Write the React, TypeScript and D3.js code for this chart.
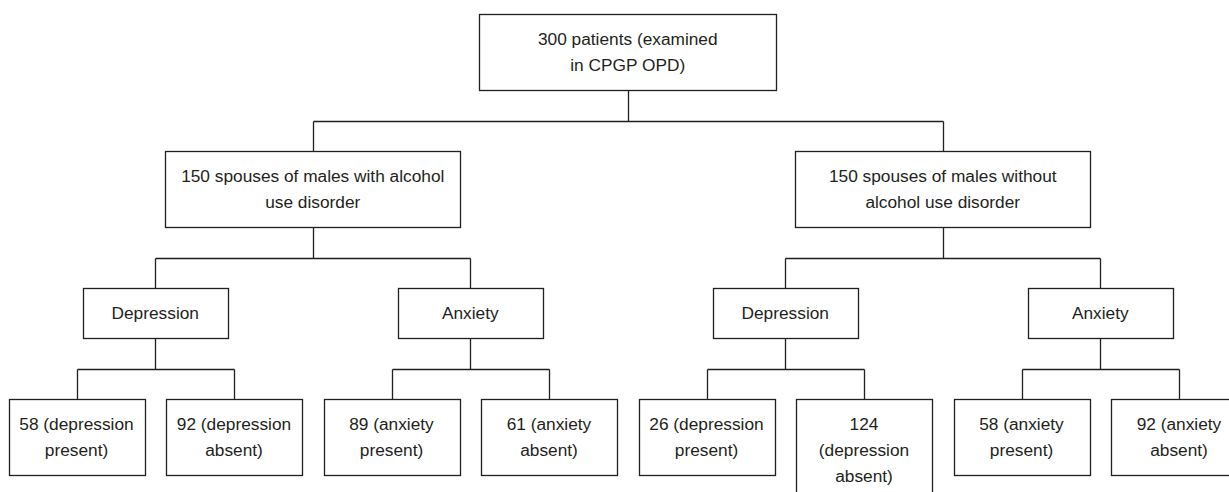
import React, { useMemo } from "react";
import * as d3 from "d3";

// ---------- data ----------
const ROOT_LABEL = "300 patients (examined\nin CPGP OPD)";
const GROUP_LABELS = [
  "150 spouses of males with alcohol\nuse disorder",
  "150 spouses of males without\nalcohol use disorder",
];
const CONDITIONS = ["Depression", "Anxiety"];
const OUTCOMES = ["present", "absent"];
// counts per group × condition : [present, absent]
const COUNTS_ALCOHOL = [
  [58, 92],
  [89, 61],
];
const COUNTS_NO_ALCOHOL = [
  [26, 124],
  [58, 92],
];
const COUNTS = [COUNTS_ALCOHOL, COUNTS_NO_ALCOHOL];

// ---------- style ----------
const W = 1229;
const H = 492;
const FONT = "Liberation Sans, Arial, Helvetica, sans-serif";
const FONT_SIZE = 17.3;
const LINE_H = 26;
const INK = "#231f20";
const BOX_W = [297, 295, 145, 136];
const TOP0 = 14;
const GAP = 61;
const CONNECT_ABOVE = 30;

type Node = { label: string; wrap?: boolean; children?: Node[] };

function buildTree(): Node {
  return {
    label: ROOT_LABEL,
    children: GROUP_LABELS.map((g, gi) => ({
      label: g,
      children: CONDITIONS.map((c, ci) => ({
        label: c,
        children: OUTCOMES.map((o, oi) => ({
          label: `${COUNTS[gi][ci][oi]} (${c.toLowerCase()} ${o})`,
          wrap: true,
        })),
      })),
    })),
  };
}

let ctx: CanvasRenderingContext2D | null = null;
function measure(s: string): number {
  if (!ctx) {
    const c = document.createElement("canvas");
    ctx = c.getContext("2d");
  }
  if (ctx) {
    ctx.font = `${FONT_SIZE}px ${FONT}`;
    return ctx.measureText(s).width;
  }
  return s.length * FONT_SIZE * 0.5;
}

function wrapText(s: string, maxW: number): string[] {
  const words = s.split(" ");
  const lines: string[] = [];
  let cur = "";
  for (const w of words) {
    const t = cur ? cur + " " + w : w;
    if (cur && measure(t) > maxW) {
      lines.push(cur);
      cur = w;
    } else cur = t;
  }
  if (cur) lines.push(cur);
  return lines;
}

export default function App() {
  const layout = useMemo(() => {
    const root = d3.hierarchy<Node>(buildTree());
    const leaves = root.leaves();
    const x = d3
      .scalePoint<string>()
      .domain(leaves.map((_, i) => String(i)))
      .range([76.5, 1179]);
    const pos = new Map<any, number>();
    leaves.forEach((l, i) => pos.set(l, x(String(i)) as number));
    root.eachAfter((n) => {
      if (n.children) pos.set(n, d3.mean(n.children, (c) => pos.get(c)) as number);
    });
    const lines = new Map<any, string[]>();
    const heights = new Map<any, number>();
    root.each((n) => {
      const w = BOX_W[n.depth];
      const ls = n.data.wrap ? wrapText(n.data.label, w - 16) : n.data.label.split("\n");
      lines.set(n, ls);
      heights.set(n, 24 + LINE_H * ls.length);
    });
    const maxDepth = root.height;
    const tops: number[] = [TOP0];
    for (let d = 1; d <= maxDepth; d++) {
      const prev = root.descendants().filter((n) => n.depth === d - 1);
      const hPrev = d3.min(prev, (n) => heights.get(n)) as number;
      tops.push(tops[d - 1] + hPrev + GAP);
    }
    const nodes = root.descendants().map((n) => ({
      n,
      cx: pos.get(n) as number,
      top: tops[n.depth],
      w: BOX_W[n.depth],
      h: heights.get(n) as number,
      lines: lines.get(n) as string[],
    }));
    const byNode = new Map(nodes.map((d) => [d.n, d]));
    const paths: string[] = [];
    nodes.forEach((d) => {
      if (!d.n.children) return;
      const kids = d.n.children.map((c) => byNode.get(c)!);
      const childTop = tops[d.n.depth + 1];
      const my = Math.round(childTop - CONNECT_ABOVE) + 0.5;
      const p = d3.path();
      const px = Math.round(d.cx) + 0.5;
      p.moveTo(px, d.top + d.h);
      p.lineTo(px, my);
      const x0 = Math.round(kids[0].cx) + 0.5;
      const x1 = Math.round(kids[kids.length - 1].cx) + 0.5;
      p.moveTo(x0, my);
      p.lineTo(x1, my);
      kids.forEach((k) => {
        const kx = Math.round(k.cx) + 0.5;
        p.moveTo(kx, my);
        p.lineTo(kx, childTop);
      });
      paths.push(p.toString());
    });
    return { nodes, paths };
  }, []);

  return (
    <svg
      width={W}
      height={H}
      viewBox={`0 0 ${W} ${H}`}
      style={{ position: "absolute", left: 0, top: 0, background: "#fff" }}
    >
      <rect x={0} y={0} width={W} height={H} fill="#fff" />
      {layout.paths.map((d, i) => (
        <path key={i} d={d} fill="none" stroke={INK} strokeWidth={1.3} />
      ))}
      {layout.nodes.map((d, i) => {
        const x0 = Math.round(d.cx - d.w / 2) + 0.5;
        const cy = d.top + d.h / 2;
        const n = d.lines.length;
        return (
          <g key={i}>
            <rect
              x={x0}
              y={Math.round(d.top) + 0.5}
              width={d.w}
              height={d.h}
              fill="#fff"
              stroke={INK}
              strokeWidth={1.3}
            />
            <text
              textAnchor="middle"
              fontFamily={FONT}
              fontSize={FONT_SIZE}
              fill={INK}
            >
              {d.lines.map((l, j) => (
                <tspan key={j} x={d.cx} y={cy + (j - (n - 1) / 2) * LINE_H + 6}>
                  {l}
                </tspan>
              ))}
            </text>
          </g>
        );
      })}
    </svg>
  );
}
